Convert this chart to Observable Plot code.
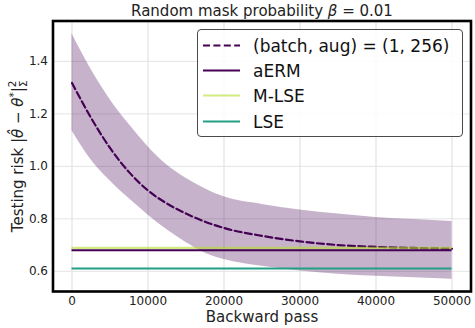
<!DOCTYPE html>
<html>
<head>
<meta charset="utf-8">
<script src="https://cdn.jsdelivr.net/npm/d3@7"></script>
<script src="https://cdn.jsdelivr.net/npm/@observablehq/plot@0.6"></script>
<style>
  html, body { margin: 0; padding: 0; background: white; }
  #wrap { position: relative; width: 475px; height: 328px; font-family: "DejaVu Sans", sans-serif; }
  #legend { position: absolute; left: 197px; top: 29px; width: 266px; height: 108px;
            box-sizing: border-box; border: 1px solid #4a4a4a; border-radius: 4px;
            background: rgba(255,255,255,0.85); }
</style>
</head>
<body>
<div id="wrap"></div>
<script>
// ---- data ----
const steps     = [0, 2500, 5000, 7500, 10000, 12500, 15000, 17500, 20000, 25000, 30000, 35000, 40000, 45000, 50000];
const meanRisk  = [1.318, 1.185, 1.070, 0.978, 0.908, 0.858, 0.820, 0.789, 0.765, 0.735, 0.714, 0.700, 0.693, 0.689, 0.686];
const upperRisk = [1.505, 1.370, 1.255, 1.160, 1.075, 1.005, 0.955, 0.915, 0.884, 0.855, 0.834, 0.818, 0.805, 0.797, 0.790];
const lowerRisk = [1.136, 1.025, 0.945, 0.877, 0.815, 0.758, 0.710, 0.670, 0.645, 0.619, 0.601, 0.589, 0.581, 0.575, 0.570];

const baselineNames  = ["aERM", "M-LSE", "LSE"];
const baselineValues = [0.680, 0.689, 0.611];

const seriesLabel = "(batch, aug) = (1, 256)";
const xTicks = [0, 10000, 20000, 30000, 40000, 50000];
const yTicks = [0.6, 0.8, 1.0, 1.2, 1.4];

const titleText  = "Random mask probability β = 0.01";
const xLabelText = "Backward pass";
const yLabelText = "Testing risk |θ̂ − θ*|²Σ";

// ---- styles ----
const curveColor = "#440154";
const baselineColors = ["#440154", "#b5de2b", "#22a085"];
const baselineOpacity = [1, 0.6, 1];

// ---- tables ----
const rows = steps.map((s, i) => ({step: s, mean: meanRisk[i], upper: upperRisk[i], lower: lowerRisk[i]}));
const baselines = baselineNames.map((n, i) => ({name: n, value: baselineValues[i], from: steps[0], to: steps[steps.length - 1]}));

const chart = Plot.plot({
  width: 475,
  height: 328,
  marginLeft: 52.5,
  marginRight: 4.5,
  marginTop: 20.5,
  marginBottom: 37,
  style: {fontFamily: "DejaVu Sans, sans-serif", fontSize: "12px", color: "#222", background: "white", overflow: "visible"},
  x: {domain: [-2500, 52500]},
  y: {domain: [0.523, 1.554]},
  color: {domain: baselineNames, range: baselineColors},
  marks: [
    Plot.gridX(xTicks, {stroke: "#dddddd", strokeOpacity: 1, strokeWidth: 1}),
    Plot.gridY(yTicks, {stroke: "#e4e4e4", strokeOpacity: 1, strokeWidth: 1}),
    Plot.areaY(rows, {x: "step", y1: "lower", y2: "upper", fill: curveColor, fillOpacity: 0.3, curve: "monotone-x"}),
    Plot.line(rows, {x: "step", y: "mean", stroke: curveColor, strokeWidth: 2.2, strokeDasharray: "7,3.4", curve: "monotone-x"}),
    Plot.ruleY(baselines.filter(d => d.name === "aERM"), {y: "value", x1: "from", x2: "to", stroke: "name", strokeWidth: 2}),
    Plot.ruleY(baselines.filter(d => d.name === "M-LSE"), {y: "value", x1: "from", x2: "to", stroke: "name", strokeOpacity: 0.6, strokeWidth: 2.2}),
    Plot.ruleY(baselines.filter(d => d.name === "LSE"), {y: "value", x1: "from", x2: "to", stroke: "name", strokeWidth: 2}),
    Plot.axisX(xTicks, {tickSize: 0, tickPadding: 5, tickFormat: d => String(d), fontSize: 12, label: null}),
    Plot.axisY(yTicks, {tickSize: 0, tickPadding: 5, tickFormat: d => d.toFixed(1), fontSize: 12, label: null}),
    Plot.frame({stroke: "black", strokeWidth: 2.6}),
    Plot.text([titleText], {frameAnchor: "top", lineAnchor: "bottom", dy: -5, fontSize: 15, className: "ttl"}),
    Plot.text([xLabelText], {frameAnchor: "bottom", lineAnchor: "bottom", dy: 30, fontSize: 15}),
    Plot.text([yLabelText], {frameAnchor: "left", textAnchor: "middle", dx: -35, rotate: -90, fontSize: 15, className: "ylab"})
  ]
});

// mathtext-like rendering of the title and y label
const svg = d3.select(chart);
const tt = svg.select("g.ttl text");
tt.text(null);
tt.append("tspan").text("Random mask probability ");
tt.append("tspan").attr("font-style", "italic").text("β");
tt.append("tspan").text(" = 0.01");

const yl = svg.select("g.ylab text");
yl.text(null);
yl.append("tspan").text("Testing risk |");
yl.append("tspan").attr("font-style", "italic").text("θ̂");
yl.append("tspan").text(" − ");
yl.append("tspan").attr("font-style", "italic").text("θ");
yl.append("tspan").attr("font-size", 10.5).attr("dy", -6).text("*");
yl.append("tspan").attr("dy", 6).text("|");
yl.append("tspan").attr("font-size", 10.5).attr("dy", -7).text("2");
yl.append("tspan").attr("font-size", 10.5).attr("dx", -6.5).attr("dy", 11).text("Σ");

const wrap = document.getElementById("wrap");
wrap.appendChild(chart);

// ---- legend (inside the axes, upper right) ----
const legend = document.createElement("div");
legend.id = "legend";
wrap.appendChild(legend);
const lsvg = d3.select(legend).append("svg").attr("width", 264).attr("height", 106)
  .style("position", "absolute").style("left", "0px").style("top", "0px");
const legendItems = [
  {label: seriesLabel, color: curveColor, dash: "7,3.4", op: 1},
  ...baselineNames.map((n, i) => ({label: n, color: baselineColors[i], dash: null, op: baselineOpacity[i]}))
];
const rowY = [15.5, 40.5, 65.5, 91.5];
legendItems.forEach((it, i) => {
  const g = lsvg.append("g").attr("transform", `translate(0,${rowY[i]})`);
  const ln = g.append("line").attr("x1", 5).attr("x2", 42).attr("y1", 0).attr("y2", 0)
    .attr("stroke", it.color).attr("stroke-width", 2.2).attr("stroke-opacity", it.op);
  if (it.dash) ln.attr("stroke-dasharray", it.dash);
  g.append("text").attr("x", 55).attr("y", 0).attr("dy", "0.36em")
    .attr("font-family", "DejaVu Sans, sans-serif").attr("font-size", 17).attr("fill", "#111")
    .text(it.label);
});
</script>
</body>
</html>
